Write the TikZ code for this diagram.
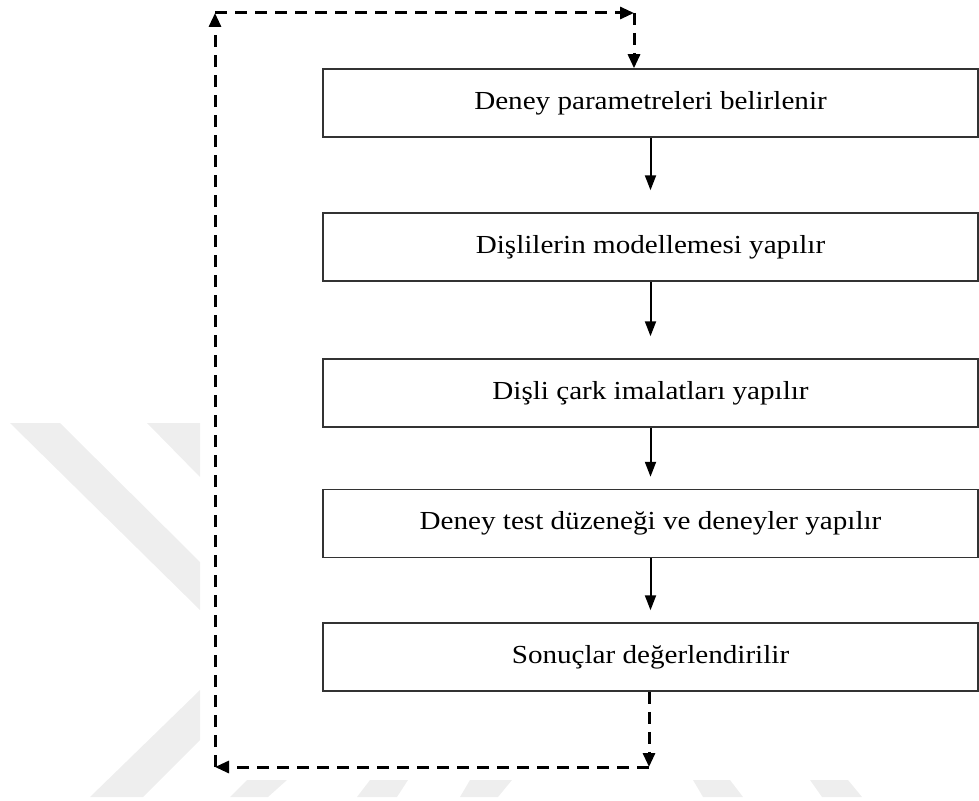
\documentclass[tikz,border=0pt]{standalone}
\usepackage{fontspec}
\setmainfont[FakeStretch=1.12]{Liberation Serif}
\usetikzlibrary{arrows.meta}
\definecolor{wm}{HTML}{EEEEEE}
\definecolor{boxline}{HTML}{333333}
\tikzset{
  stepbox/.style={draw=boxline, line width=1.5pt, minimum width=655pt, minimum height=68pt,
    inner sep=0pt, font=\fontsize{26}{30}\selectfont},
  arr/.style={draw=black, line width=2pt, -{Triangle[length=15pt,width=11pt]}, shorten >=12pt},
  dasharr/.style={draw=black, line width=3pt, dash pattern=on 12pt off 8pt,
    -{Triangle[length=14pt,width=12pt]}}
}
\begin{document}
\begin{tikzpicture}[x=1pt,y=-1pt]
\useasboundingbox (0,0) rectangle (979,800);
% faint watermark
\fill[wm] (10,423) -- (60,423) -- (200,562) -- (200,610) -- cycle;
\fill[wm] (147,423) -- (200,423) -- (200,477) -- cycle;
\fill[wm] (90,797) -- (143,797) -- (200,740) -- (200,690) -- cycle;
\fill[wm] (230,797) -- (268,797) -- (287,780) -- (247,780) -- cycle;
\fill[wm] (357,797) -- (397,797) -- (408,780) -- (370,780) -- cycle;
\fill[wm] (460,797) -- (498,797) -- (512,780) -- (470,780) -- cycle;
\fill[wm] (693,780) -- (730,780) -- (743,797) -- (703,797) -- cycle;
\fill[wm] (810,780) -- (848,780) -- (862,797) -- (822,797) -- cycle;
% boxes
\node[stepbox] (b1) at (650.5,103) {Deney parametreleri belirlenir};
\node[stepbox] (b2) at (650.5,247) {Dişlilerin modellemesi yapılır};
\node[stepbox] (b3) at (650.5,393) {Dişli çark imalatları yapılır};
\node[stepbox] (b4) at (650.5,523.5) {Deney test düzeneği ve deneyler yapılır};
\node[stepbox] (b5) at (650.5,657) {Sonuçlar değerlendirilir};
% solid arrows
\draw[arr, shorten >=22pt] (b1) -- (b2);
\draw[arr, shorten >=22pt] (b2) -- (b3);
\draw[arr] (b3) -- (b4);
\draw[arr] (b4) -- (b5);
% dashed feedback loop
\coordinate (c1) at (649,767);
\coordinate (c2) at (215,767);
\coordinate (c3) at (215,13);
\coordinate (c4) at (634,13);
\draw[dasharr] (b5.south -| c1) -- (c1);
\draw[dasharr] (c1) -- (c2);
\draw[dasharr] (c2) -- (c3);
\draw[dasharr] (c3) -- (c4);
\draw[dasharr] (c4) -- (c4 |- b1.north);
\end{tikzpicture}
\end{document}
